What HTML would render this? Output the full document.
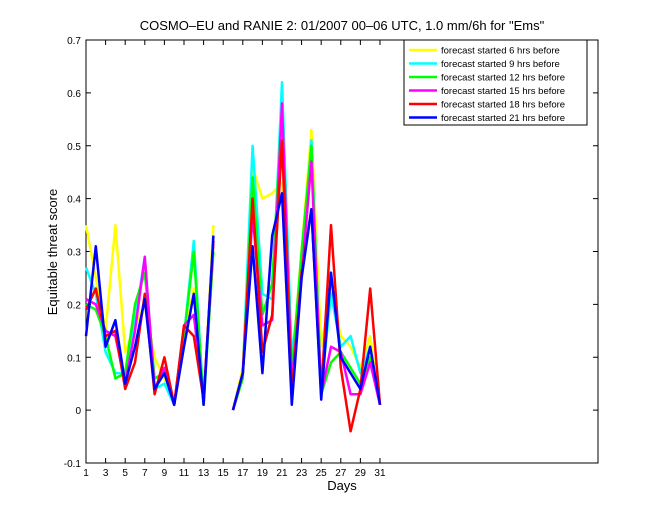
<!DOCTYPE html>
<html><head><meta charset="utf-8"><style>
body{margin:0;background:#fff;}
text{font-family:"Liberation Sans",sans-serif;}
</style></head><body>
<svg id="chart" width="660" height="520" xmlns="http://www.w3.org/2000/svg">
<rect width="660" height="520" fill="#fff"/>
<text x="342" y="30" font-size="13" text-anchor="middle">COSMO–EU and RANIE 2: 01/2007 00–06 UTC, 1.0 mm/6h for "Ems"</text>
<g id="plot"></g>
<text x="342" y="490" font-size="13" text-anchor="middle">Days</text>
<text transform="translate(57,252) rotate(-90)" font-size="13" text-anchor="middle">Equitable threat score</text>
</svg>
<script>
const days = Array.from({length:31},(_,i)=>i+1);
const yTicks = [-0.1,0,0.1,0.2,0.3,0.4,0.5,0.6,0.7];
const xTicks = [1,3,5,7,9,11,13,15,17,19,21,23,25,27,29,31];
const seriesNames = ["forecast started 6 hrs before","forecast started 9 hrs before","forecast started 12 hrs before","forecast started 15 hrs before","forecast started 18 hrs before","forecast started 21 hrs before"];
const seriesColors = ["#ffff00","#00ffff","#00ff00","#ff00ff","#ff0000","#0000ff"];
const s6 = [0.35,0.25,0.15,0.35,0.11,0.16,0.20,0.10,0.06,0.01,0.13,0.23,0.01,0.35,null,0,0.08,0.46,0.40,0.41,0.43,0.08,0.30,0.53,0.12,0.23,0.14,0.12,0.08,0.14,0.01];
const s9 = [0.27,0.22,0.11,0.07,0.07,0.17,0.29,0.04,0.05,0.01,0.14,0.32,0.01,0.32,null,0,0.07,0.50,0.22,0.21,0.62,0.10,0.26,0.51,0.04,0.22,0.12,0.14,0.07,0.12,0.01];
const s12 = [0.20,0.19,0.14,0.06,0.07,0.20,0.26,0.06,0.07,0.01,0.14,0.30,0.01,0.30,null,0,0.06,0.44,0.18,0.24,0.57,0.07,0.30,0.50,0.03,0.09,0.11,0.08,0.05,0.10,0.01];
const s15 = [0.21,0.20,0.15,0.14,0.05,0.15,0.29,0.04,0.08,0.01,0.16,0.18,0.02,0.32,null,0,0.07,0.37,0.16,0.17,0.58,0.05,0.25,0.47,0.03,0.12,0.11,0.03,0.03,0.09,0.01];
const s18 = [0.19,0.23,0.14,0.15,0.04,0.09,0.22,0.03,0.10,0.01,0.16,0.14,0.02,0.32,null,0,0.07,0.40,0.11,0.18,0.51,0.03,0.26,0.38,0.03,0.35,0.08,-0.04,0.04,0.23,0.01];
const s21 = [0.14,0.31,0.12,0.17,0.05,0.12,0.21,0.04,0.07,0.01,0.12,0.22,0.01,0.33,null,0,0.07,0.31,0.07,0.33,0.41,0.01,0.25,0.38,0.02,0.26,0.10,0.07,0.04,0.12,0.01];
const allSeries=[s6,s9,s12,s15,s18,s21];
const L=86,R=598,T=40,B=463,xmin=1,xmax=53.25,ymin=-0.1,ymax=0.7;
const xs=d=>L+(d-xmin)/(xmax-xmin)*(R-L);
const ys=v=>B-(v-ymin)/(ymax-ymin)*(B-T);
const NS="http://www.w3.org/2000/svg";
const g=document.getElementById('plot');
function mk(t,a){const e=document.createElementNS(NS,t);for(const k in a)e.setAttribute(k,a[k]);g.appendChild(e);return e;}
const frame=mk('rect',{x:L,y:T,width:R-L,height:B-T,fill:'none',stroke:'#000','stroke-width':1});


yTicks.forEach(v=>{
  const y=ys(v);
  mk('line',{x1:L,x2:L+5,y1:y,y2:y,stroke:'#000'});mk('line',{x1:R,x2:R-5,y1:y,y2:y,stroke:'#000'});
  const t=mk('text',{x:L-5,y:y+4,'font-size':10,'text-anchor':'end'});t.textContent=(v===0?'0':String(v));
  
  
});
xTicks.forEach(d=>{
  const x=xs(d);
  mk('line',{x1:x,x2:x,y1:B,y2:B-5,stroke:'#000'});mk('line',{x1:x,x2:x,y1:T,y2:T+5,stroke:'#000'});
  const t=mk('text',{x:x,y:B+13,'font-size':10,'text-anchor':'middle'});t.textContent=d;
  
  
});
allSeries.forEach((s,i)=>{
  let dstr='',pen=false;
  s.forEach((v,j)=>{if(v===null){pen=false;return;}dstr+=(pen?'L':'M')+xs(days[j]).toFixed(1)+','+ys(v).toFixed(1);pen=true;});
  const p=mk('path',{d:dstr,fill:'none',stroke:seriesColors[i],'stroke-width':2.5,'stroke-linejoin':'round'});
  
  
});
const lg=mk('rect',{x:404,y:40,width:183,height:85,fill:'#fff',stroke:'#000'});


seriesNames.forEach((n,i)=>{
  const y=50+i*13.5;
  mk('line',{x1:409,x2:437,y1:y,y2:y,stroke:seriesColors[i],'stroke-width':2.5});
  const t=mk('text',{x:441,y:y+3.5,'font-size':9.5});t.textContent=n;
  
  
});
</script>
</body></html>
